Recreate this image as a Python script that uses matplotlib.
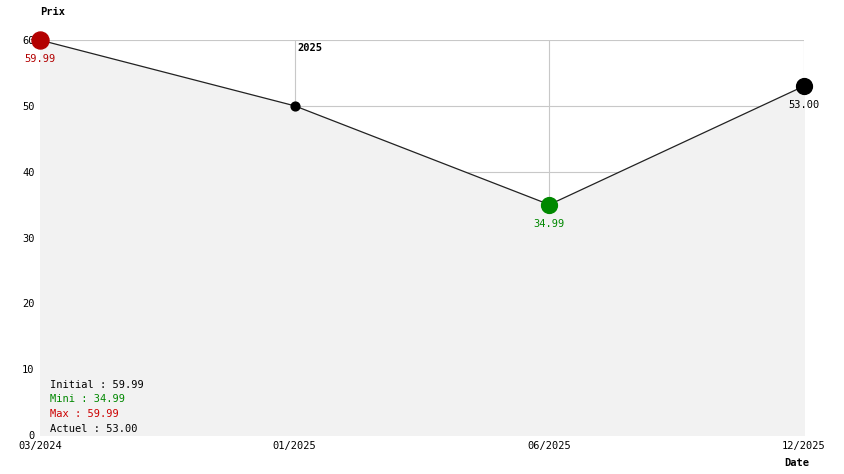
import matplotlib.pyplot as plt

dates = ["03/2024", "01/2025", "06/2025", "12/2025"]
prices = [59.99, 50.00, 34.99, 53.00]
y_ticks = [0, 10, 20, 30, 40, 50, 60]

plt.rcParams['font.family'] = 'DejaVu Sans Mono'
fig = plt.figure(figsize=(8.44, 4.74), dpi=100)
ax = fig.add_axes([40/844, 1-435/474, 764/844, 395/474])
xs = list(range(len(prices)))

ax.set_xlim(0, 3)
ax.set_ylim(0, 60)
for s in ax.spines.values():
    s.set_visible(False)
ax.set_xticks(xs, dates)
ax.set_yticks(y_ticks)
ax.tick_params(length=0, labelsize=7.5, pad=4)
ax.grid(True, color='#c8c8c8', lw=0.8, zorder=0)
ax.set_axisbelow(True)

ax.fill_between(xs, prices, 0, color='#f2f2f2', zorder=1)
ax.plot(xs, prices, color='#222222', lw=0.9, zorder=2)

ax.scatter([0], [prices[0]], s=150, color='#b30000', zorder=3, clip_on=False)
ax.scatter([1], [prices[1]], s=40, color='black', zorder=3)
ax.scatter([2], [prices[2]], s=130, color='#008800', zorder=3)
ax.scatter([3], [prices[3]], s=130, color='black', zorder=3, clip_on=False)

ax.annotate(f"{prices[0]:.2f}", (0, prices[0]), xytext=(0, -16), textcoords='offset points',
            ha='center', fontsize=7.5, color='#b30000')
ax.annotate(f"{prices[2]:.2f}", (2, prices[2]), xytext=(0, -16), textcoords='offset points',
            ha='center', fontsize=7.5, color='#008800')
ax.annotate(f"{prices[3]:.2f}", (3, prices[3]), xytext=(0, -16), textcoords='offset points',
            ha='center', fontsize=7.5, color='black')

ax.text(1.01, 58.3, "2025", fontsize=7.5, fontweight='bold')
fig.text(40/844, 1-12/474, "Prix", fontsize=7.5, fontweight='bold', va='center')
fig.text(784/844, 1-463/474, "Date", fontsize=7.5, fontweight='bold', va='center')

stats = [("Initial : %.2f" % prices[0], 'black'),
         ("Mini : %.2f" % min(prices), '#008800'),
         ("Max : %.2f" % max(prices), '#cc0000'),
         ("Actuel : %.2f" % prices[-1], 'black')]
for i, (t, c) in enumerate(stats):
    fig.text(50/844, 1-(385 + i*14.5)/474, t, fontsize=7.5, color=c, va='center')

fig.savefig("out.png", dpi=100)
